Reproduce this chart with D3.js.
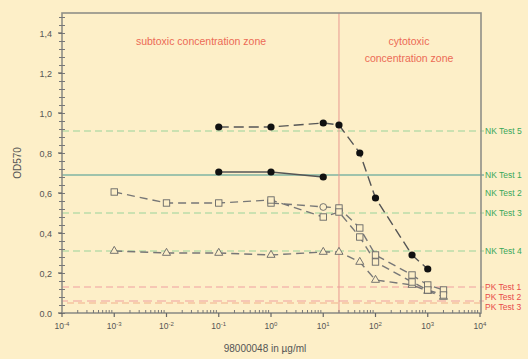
<!DOCTYPE html>
<html>
<head>
<meta charset="utf-8">
<script src="https://cdn.jsdelivr.net/npm/d3@7"></script>
<style>
  body { margin: 0; background: #fdefc8; }
  svg { display: block; font-family: "Liberation Sans", Arial, sans-serif; }
</style>
</head>
<body>
<svg id="chart" width="528" height="359"></svg>
<script>
// concentrations in µg/ml
const conc = [0.001, 0.01, 0.1, 1, 10, 20, 50, 100, 500, 1000, 2000]

// series values (OD570), null = no measurement
const filledDashed = [null, null, 0.93, 0.93, 0.95, 0.94, 0.80, 0.575, 0.29, 0.22, null]
const filledSolid = [null, null, 0.705, 0.705, 0.68, null, null, null, null, null, null]
const squaresA = [0.605, 0.55, 0.55, 0.565, 0.48, 0.505, 0.38, 0.255, 0.155, 0.115, 0.09]
const squaresB = [null, null, null, 0.55, null, 0.525, 0.425, 0.29, 0.19, 0.14, 0.115]
const circleOpen = [null, null, null, null, 0.53, null, null, null, null, null, null]
const triangles = [0.31, 0.30, 0.30, 0.29, 0.305, 0.305, 0.255, 0.165, 0.14, 0.11, 0.08]

// reference lines
const nkLines = [
  { value: 0.91, style: "dash" },
  { value: 0.69, style: "solid" },
  { value: 0.50, style: "dash" },
  { value: 0.31, style: "dash" }
]
const nkLabels = ["NK Test 5", "NK Test 1", "NK Test 2", "NK Test 3", "NK Test 4"]
const nkLabelValues = [0.91, 0.69, 0.60, 0.50, 0.31]
const pkLines = [0.13, 0.06, 0.05]
const pkLabels = ["PK Test 1", "PK Test 2", "PK Test 3"]
const pkLabelValues = [0.13, 0.08, 0.03]

const zoneBorder = 20
const xTicks = [-4, -3, -2, -1, 0, 1, 2, 3, 4]
const yTicks = [0, 0.2, 0.4, 0.6, 0.8, 1.0, 1.2, 1.4]

const svg = d3.select("#chart")
const plotLeft = 62, plotRight = 480, plotTop = 13, plotBottom = 313

const x = d3.scaleLog().domain([1e-4, 1e4]).range([plotLeft, plotRight])
const y = d3.scaleLinear().domain([0, 1.5]).range([plotBottom, plotTop])

svg.append("rect").attr("width", 528).attr("height", 359).attr("fill", "#fdefc8")

// NK reference lines
nkLines.forEach(d => {
  svg.append("line")
      .attr("x1", plotLeft).attr("x2", plotRight + 4)
      .attr("y1", y(d.value)).attr("y2", y(d.value))
      .attr("stroke", d.style == "solid" ? "#7fb5a3" : "#9ad39a")
      .attr("stroke-width", d.style == "solid" ? 1.3 : 1.2)
      .attr("stroke-dasharray", d.style == "solid" ? null : "7,4")
})

// PK reference lines
pkLines.forEach((v, i) => {
  svg.append("line")
      .attr("x1", plotLeft).attr("x2", plotRight + 4)
      .attr("y1", y(v)).attr("y2", y(v))
      .attr("stroke", i == 2 ? "#f2b08a" : "#f0a0a0")
      .attr("stroke-width", 1.2)
      .attr("stroke-dasharray", i == 1 ? "9,5" : "7,4")
      .attr("stroke-dashoffset", i * 3)
})

nkLabels.forEach((t, i) => {
  svg.append("text")
      .attr("x", plotRight + 5).attr("y", y(nkLabelValues[i]) + 3)
      .attr("font-size", 8.5).attr("fill", "#3aa85a")
      .text(t)
})
pkLabels.forEach((t, i) => {
  svg.append("text")
      .attr("x", plotRight + 5).attr("y", y(pkLabelValues[i]) + 3)
      .attr("font-size", 8.5).attr("fill", "#e84a4a")
      .text(t)
})

// zone divider
svg.append("line")
    .attr("x1", x(zoneBorder)).attr("x2", x(zoneBorder))
    .attr("y1", plotTop).attr("y2", plotBottom)
    .attr("stroke", "#e89a90").attr("stroke-width", 1)

svg.append("text")
    .attr("x", 201).attr("y", 45)
    .attr("text-anchor", "middle").attr("font-size", 10.5).attr("fill", "#ec6a55")
    .text("subtoxic concentration zone")
svg.append("text")
    .attr("x", 409).attr("y", 45)
    .attr("text-anchor", "middle").attr("font-size", 10.5).attr("fill", "#ec6a55")
    .text("cytotoxic")
svg.append("text")
    .attr("x", 409).attr("y", 62)
    .attr("text-anchor", "middle").attr("font-size", 10.5).attr("fill", "#ec6a55")
    .text("concentration zone")

// series lines
const seriesLine = d3.line()
    .defined(d => d[1] != null)
    .x(d => x(d[0]))
    .y(d => y(d[1]))

const zip = vals => conc.map((c, i) => [c, vals[i]]).filter(d => d[1] != null)

const drawLine = (vals, dash, color) => {
  svg.append("path")
      .datum(zip(vals))
      .attr("d", seriesLine)
      .attr("fill", "none")
      .attr("stroke", color)
      .attr("stroke-width", 1.4)
      .attr("stroke-dasharray", dash)
}

drawLine(triangles, "8,5", "#777")
drawLine(squaresB, "8,5", "#777")
drawLine(squaresA, "8,5", "#777")
drawLine(filledSolid, null, "#555")
drawLine(filledDashed, "10,5", "#555")

// markers
svg.append("g").selectAll("path")
  .data(zip(triangles))
  .join("path")
    .attr("d", d3.symbol(d3.symbolTriangle, 28))
    .attr("transform", d => `translate(${x(d[0])},${y(d[1])})`)
    .attr("fill", "#fdefc8").attr("stroke", "#666").attr("stroke-width", 0.9)

svg.append("g").selectAll("rect")
  .data(zip(squaresB).concat(zip(squaresA)))
  .join("rect")
    .attr("x", d => x(d[0]) - 3.2).attr("y", d => y(d[1]) - 3.2)
    .attr("width", 6.4).attr("height", 6.4)
    .attr("fill", "#fdefc8").attr("stroke", "#666").attr("stroke-width", 0.9)

svg.append("g").selectAll("circle")
  .data(zip(circleOpen))
  .join("circle")
    .attr("cx", d => x(d[0])).attr("cy", d => y(d[1])).attr("r", 3.4)
    .attr("fill", "#fdefc8").attr("stroke", "#666").attr("stroke-width", 0.9)

svg.append("g").selectAll("circle")
  .data(zip(filledDashed).concat(zip(filledSolid)))
  .join("circle")
    .attr("cx", d => x(d[0])).attr("cy", d => y(d[1])).attr("r", 3.6)
    .attr("fill", "#111")

// plot frame
svg.append("rect")
    .attr("x", plotLeft).attr("y", plotTop)
    .attr("width", plotRight - plotLeft + 1).attr("height", plotBottom - plotTop)
    .attr("fill", "none").attr("stroke", "#8f8f88").attr("stroke-width", 1.6)

// y axis minor ticks
const yAxis = svg.append("g").attr("transform", `translate(${plotLeft},0)`)
    .call(d3.axisLeft(y).tickValues(d3.range(0, 1.501, 0.04)).tickSize(3).tickFormat(""))
yAxis.select(".domain").remove()
yAxis.selectAll("line").attr("stroke", "#777").attr("x2", 3).attr("x1", -3)

yTicks.forEach(v => {
  svg.append("line")
      .attr("x1", plotLeft - 4).attr("x2", plotLeft)
      .attr("y1", y(v)).attr("y2", y(v))
      .attr("stroke", "#666").attr("stroke-width", 1.2)
  svg.append("text")
      .attr("x", plotLeft - 10).attr("y", y(v) + 3.5)
      .attr("text-anchor", "end").attr("font-size", 9).attr("fill", "#555")
      .text(v == 0 ? "0.0" : d3.format(".1f")(v).replace(".", ","))
})

// x axis
const minor = []
for (let e = -4; e < 4; e++) for (let m = 2; m < 10; m++) minor.push(m * Math.pow(10, e))
svg.append("g").selectAll("line")
  .data(minor)
  .join("line")
    .attr("x1", d => x(d)).attr("x2", d => x(d))
    .attr("y1", plotBottom - 3).attr("y2", plotBottom)
    .attr("stroke", "#777")

const xLabels = svg.append("g")
xTicks.forEach(e => {
  xLabels.append("line")
      .attr("x1", x(Math.pow(10, e))).attr("x2", x(Math.pow(10, e)))
      .attr("y1", plotBottom).attr("y2", plotBottom + 4)
      .attr("stroke", "#666").attr("stroke-width", 1.2)
  const t = xLabels.append("text")
      .attr("x", x(Math.pow(10, e))).attr("y", plotBottom + 15.5)
      .attr("text-anchor", "middle").attr("font-size", 8.5).attr("fill", "#555")
  t.append("tspan").text("10")
  t.append("tspan").attr("dy", -3).attr("font-size", 6).text(e)
})

svg.append("text")
    .attr("x", 265).attr("y", 352)
    .attr("text-anchor", "middle").attr("font-size", 10).attr("fill", "#555")
    .text("98000048 in µg/ml")

svg.append("text")
    .attr("transform", "translate(21,163) rotate(-90)")
    .attr("text-anchor", "middle").attr("font-size", 10).attr("fill", "#555")
    .text("OD570")
</script>
</body>
</html>
